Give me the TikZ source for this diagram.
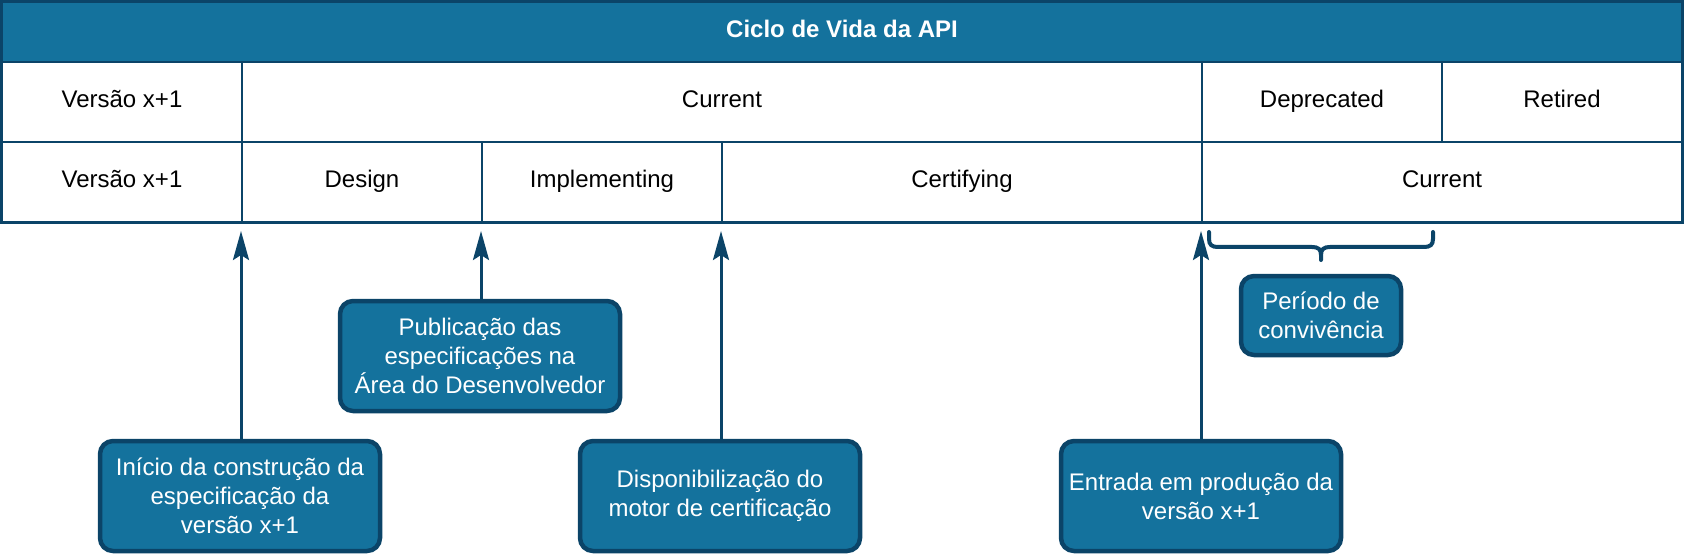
\documentclass[tikz,border=0pt]{standalone}
\usepackage{fontspec}
\setmainfont{Liberation Sans}
\usetikzlibrary{arrows.meta}
\definecolor{navy}{HTML}{0B4468}
\definecolor{apiblue}{HTML}{14729D}
\begin{document}
\begin{tikzpicture}[x=1pt,y=-1pt,
  txt/.style={font=\fontsize{24}{29}\selectfont},
  cell/.style={txt, draw=navy, line width=2pt, anchor=north west, minimum height=80pt, inner sep=0pt, text=black, text height=17pt, text depth=5pt},
  note/.style={txt, draw=navy, fill=apiblue, line width=4.5pt, rounded corners=13pt, text=white, align=center, inner sep=0pt},
  bignote/.style={note, minimum width=280pt, minimum height=110pt},
  link/.style={draw=navy, line width=3pt, -{Stealth[length=29pt,width=16pt,inset=5pt]}}]
\useasboundingbox (0,0) rectangle (1684,556);

% header
\node[cell, fill=apiblue, minimum width=1680pt, minimum height=60pt, text=white, font=\fontsize{24}{29}\selectfont\bfseries] (hdr) at (1,1) {Ciclo de Vida da API};
% row 1
\node[cell, minimum width=240pt] (v1) at (1,61) {Versão x+1};
\node[cell, minimum width=960pt] (cur1) at (241,61) {Current};
\node[cell, minimum width=240pt] (dep) at (1201,61) {Deprecated};
\node[cell, minimum width=240pt] (ret) at (1441,61) {Retired};
% row 2
\node[cell, minimum width=240pt] (v2) at (1,141) {Versão x+1};
\node[cell, minimum width=240pt] (des) at (241,141) {Design};
\node[cell, minimum width=240pt] (imp) at (481,141) {Implementing};
\node[cell, minimum width=480pt] (cer) at (721,141) {Certifying};
\node[cell, minimum width=480pt] (cur2) at (1201,141) {Current};
\draw[navy, line width=3pt] (hdr.north west) rectangle (cur2.south east);

% notes
\node[bignote] (ini) at (240,496) {Início da construção da\\especificação da\\versão x+1};
\node[bignote] (pub) at (480,356) {Publicação das\\especificações na\\Área do Desenvolvedor};
\node[bignote] (dis) at (720,496) {Disponibilização do\\motor de certificação};
\node[bignote] (ent) at (1201,496) {Entrada em produção da\\versão x+1};
\node[note, minimum width=160pt, minimum height=79pt] (per) at (1321,315.5) {Período de\\convivência};

% arrows
\coordinate (tip) at (0,231);
\draw[link] (ini.north -| des.south west) -- (tip -| des.south west);
\draw[link] (pub.north -| imp.south west) -- (tip -| imp.south west);
\draw[link] (dis.north -| cer.south west) -- (tip -| cer.south west);
\draw[link] (ent.north -| cur2.south west) -- (tip -| cur2.south west);

% brace
\draw[navy, line width=4pt, line cap=round]
  (1209,232) -- (1209,239) .. controls (1209,245) and (1212,247) .. (1218,247) -- (1312,247)
  .. controls (1318,247) and (1321,249) .. (1321,255) -- (1321,260)
  (1321,255) .. controls (1321,249) and (1324,247) .. (1330,247) -- (1424,247)
  .. controls (1430,247) and (1433,245) .. (1433,239) -- (1433,232);
\end{tikzpicture}
\end{document}
